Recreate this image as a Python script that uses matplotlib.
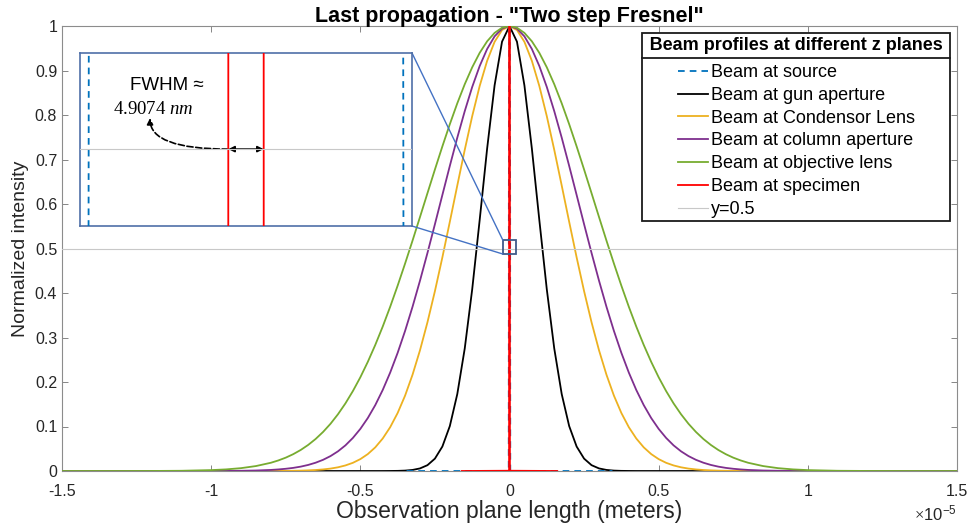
import numpy as np
import matplotlib
matplotlib.use("Agg")
import matplotlib.pyplot as plt
from matplotlib.patches import Rectangle, ConnectionPatch
from matplotlib.lines import Line2D
from matplotlib.ticker import FuncFormatter
from matplotlib.transforms import IdentityTransform

plt.rcParams["font.family"] = ["Liberation Sans", "DejaVu Sans"]
plt.rcParams["mathtext.fontset"] = "custom"
plt.rcParams["mathtext.rm"] = "Liberation Serif"
plt.rcParams["mathtext.it"] = "Liberation Serif:italic"
plt.rcParams["axes.unicode_minus"] = False

# ---- data (half profiles, curves are symmetric about 0) ----
# x in units of 1e-5 m
x_half = [0, .025, .05, .075, .1, .125, .15, .175, .2, .225, .25, .275, .3,
          .325, .35, .375, .4, .425, .45, .475, .5, .525, .55, .575, .6, .625,
          .65, .675, .7, .725, .75, .775, .8, .85, .9, .95, 1.0, 1.1, 1.2,
          1.3, 1.5]
gun_half = [1, .9648, .8665, .7244, .5638, .4084, .2754, .1729, .1010, .0550,
            .0278, .0131, .0058, .0024, .0009, .0003, .0001,
            0, 0, 0, 0, 0, 0, 0, 0, 0, 0, 0, 0, 0, 0, 0, 0, 0, 0, 0, 0, 0, 0,
            0, 0]
condensor_half = [1, .9910, .9644, .9217, .8651, .7974, .7217, .6416, .5601,
                  .4801, .4042, .3342, .2714, .2164, .1694, .1303, .0984,
                  .0730, .0531, .0380, .0267, .0184, .0125, .0083, .0054,
                  .0035, .0022, .0014, .0008, .0005, .0003, .0002, .0001,
                  0, 0, 0, 0, 0, 0, 0, 0]
column_half = [1, .9941, .9767, .9483, .9100, .8630, .8087, .7491, .6857,
               .6203, .5546, .4900, .4278, .3691, .3148, .2654, .2211, .1820,
               .1480, .1190, .0946, .0743, .0576, .0442, .0335, .0251, .0186,
               .0136, .0098, .0070, .0050, .0035, .0024, .0011, .0005, .0002,
               .0001, 0, 0, 0, 0]
objective_half = [1, .9961, .9845, .9656, .9396, .9072, .8692, .8263, .7794,
                  .7295, .6775, .6243, .5708, .5178, .4662, .4164, .3690,
                  .3245, .2832, .2452, .2106, .1796, .1519, .1275, .1061,
                  .0877, .0719, .0585, .0472, .0378, .0300, .0237, .0185,
                  .0111, .0064, .0036, .0020, .0005, .0001, 0, 0]

# very narrow profiles, x in nm
source_x_nm = [0, 12, 21.7, 21.9, 26, 3450]
source_y = [1, .93, .60, .40, 0, 0]
specimen_x_nm = [0, 1, 2, 2.45, 2.456, 3, 4, 6, 8, 1600]
specimen_y = [1, .891, .631, .52, .48, .355, .1585, .0158, .0006, 0]

ref_x = [-1.5, 1.5]
ref_y = [0.5, 0.5]

labels = ["Beam at source", "Beam at gun aperture", "Beam at Condensor Lens",
          "Beam at column aperture", "Beam at objective lens",
          "Beam at specimen", "y=0.5"]
colors = ["#0072BD", "black", "#EDB120", "#7E2F8E", "#77AC30", "#FF0000",
          "#C8C8C8"]


def mirror(xh, yh, scale):
    xh = np.asarray(xh, float) * scale
    yh = np.asarray(yh, float)
    assert len(xh) == len(yh)
    return (np.concatenate([-xh[::-1], xh[1:]]),
            np.concatenate([yh[::-1], yh[1:]]))


series = [
    mirror(source_x_nm, source_y, 1e-9),
    mirror(x_half, gun_half, 1e-5),
    mirror(x_half, condensor_half, 1e-5),
    mirror(x_half, column_half, 1e-5),
    mirror(x_half, objective_half, 1e-5),
    mirror(specimen_x_nm, specimen_y, 1e-9),
    (np.asarray(ref_x) * 1e-5, np.asarray(ref_y)),
]


def draw_lines(ax, with_labels):
    out = []
    for i, ((x, y), c) in enumerate(zip(series, colors)):
        kw = dict(color=c, lw=1.3, zorder=3)
        if i == 0:
            kw.update(dashes=(3.7, 2.8), zorder=3.5)
        if i == 5:
            kw.update(zorder=3.6)
        if i == 6:
            kw.update(lw=0.8, zorder=3.7)
        ln, = ax.plot(x, y, label=labels[i] if with_labels else None, **kw)
        out.append(ln)
    return out


fig = plt.figure(figsize=(9.72, 5.31), dpi=100)
ax = fig.add_axes([62 / 972, 1 - 471 / 531, 895 / 972, 445 / 531])
handles = draw_lines(ax, True)

ax.set_xlim(-1.5e-5, 1.5e-5)
ax.set_ylim(0, 1)
ax.set_xticks(np.arange(-1.5, 1.51, 0.5) * 1e-5)
ax.set_yticks(np.arange(0, 1.01, 0.1))
ax.xaxis.set_major_formatter(FuncFormatter(lambda v, p: f"{v / 1e-5:g}"))
ax.yaxis.set_major_formatter(FuncFormatter(lambda v, p: f"{v:g}"))
ax.tick_params(direction="in", length=4, width=0.6, top=True, right=True,
               color="0.45", labelcolor="0.15", labelsize=11.5)
ax.tick_params(axis="x", pad=9)
for s in ax.spines.values():
    s.set_color("0.55")
    s.set_linewidth(0.8)
ax.text(1.0, -0.072, r"$\times\mathdefault{10^{-5}}$", transform=ax.transAxes,
        ha="right", va="top", fontsize=12, color="0.15")

ax.set_xlabel("Observation plane length (meters)", fontsize=16.5, color="0.15",
              labelpad=1)
ax.set_ylabel("Normalized intensity", fontsize=14, color="0.15", labelpad=4)
ax.set_title('Last propagation - "Two step Fresnel"', fontsize=15.5,
             fontweight="bold", pad=3)

leg = ax.legend(handles, labels, loc="upper right",
                bbox_to_anchor=(0.9922, 0.9843), borderaxespad=0,
                title="\u2009Beam profiles at different z planes\u2009",
                title_fontproperties={"weight": "bold", "size": 13},
                fontsize=13, fancybox=False, framealpha=1, edgecolor="0.1",
                handlelength=1.65, handletextpad=0.17, labelspacing=0.32,
                borderpad=0.2)
leg.get_frame().set_linewidth(1.3)
leg.set_zorder(10)
# more room between the title and the entries (MATLAB legend look)
leg._legend_box.sep = 7.6

# zoom marker box in the main axes
box_x0, box_x1 = -0.0225e-5, 0.0225e-5
box_y0, box_y1 = 0.4876, 0.519
ax.add_patch(Rectangle((box_x0, box_y0), box_x1 - box_x0, box_y1 - box_y0,
                       fill=False, edgecolor="#3F5A8A", lw=1.3, zorder=5))

# inset
axins = fig.add_axes([80 / 972, 1 - 226 / 531, 332 / 972, 173 / 531])
axins.set_zorder(8)
draw_lines(axins, False)
axins.set_xlim(-2.3e-8, 2.3e-8)
axins.set_ylim(0.486, 0.5175)
axins.set_xticks([])
axins.set_yticks([])
for s in axins.spines.values():
    s.set_color("#4F6FA8")
    s.set_linewidth(1.2)

for ya, yb in [(1, box_y1), (0, box_y0)]:
    con = ConnectionPatch(xyA=(1, ya), coordsA=axins.transAxes,
                          xyB=(box_x0, yb), coordsB=ax.transData,
                          color="#4472C4", lw=1.0, zorder=7)
    fig.add_artist(con)

hw = 2.4537e-9
axins.annotate("", xy=(hw, 0.5), xytext=(-hw, 0.5),
               arrowprops=dict(arrowstyle="<|-|>", color="k", lw=1.2,
                               mutation_scale=9, shrinkA=0, shrinkB=0))
axins.annotate("", xy=(0.211, 0.624), xycoords="axes fraction",
               xytext=(-hw, 0.5), textcoords="data",
               arrowprops=dict(arrowstyle="-|>", color="k", lw=1.2,
                               linestyle="--", mutation_scale=9,
                               shrinkA=0, shrinkB=0,
                               connectionstyle="angle3,angleA=0,angleB=90"))
axins.text(0.1506, 0.786, "FWHM \u2248", transform=axins.transAxes,
           fontsize=13.5, va="baseline")
axins.text(0.0994, 0.647, r"$\mathrm{4.9074}\ nm$", transform=axins.transAxes,
           fontsize=13.5, va="baseline")

# separator line under the legend title (MATLAB style)
fig.canvas.draw()
r = fig.canvas.get_renderer()
fb = leg.get_frame().get_window_extent(r)
tb = leg.get_title().get_window_extent(r)
ysep = tb.y0 - 4
fig.add_artist(Line2D([fb.x0, fb.x1], [ysep, ysep], color="0.1", lw=1.3,
                      transform=IdentityTransform(), zorder=11))

fig.savefig("out.png", dpi=100)
